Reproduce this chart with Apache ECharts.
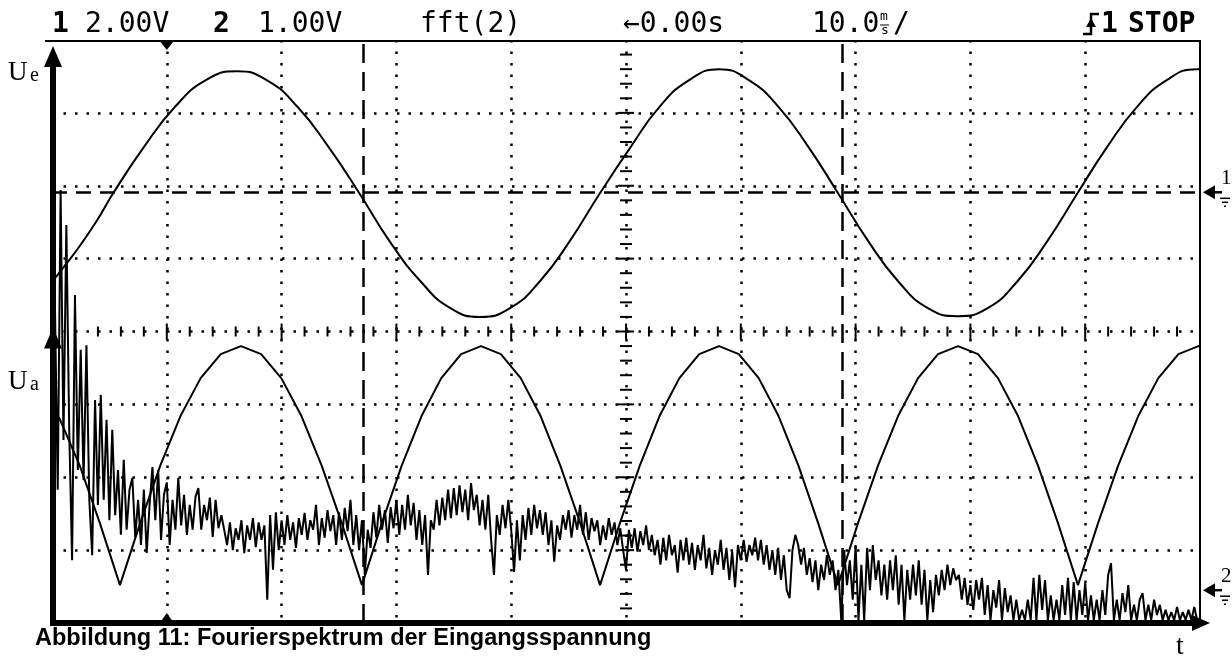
<!DOCTYPE html>
<html><head><meta charset="utf-8">
<script src="https://cdn.jsdelivr.net/npm/echarts@6/dist/echarts.min.js"></script>
<style>html,body{margin:0;padding:0;background:#fff}#c{width:1232px;height:659px}</style>
</head><body><div id="c"></div>
<script>
// ---- data (time in ms, trigger at 0; amplitude in divisions) ----
const timeUe = [-50,-48.9,-47.6,-46.1,-44.7,-42.0,-39.3,-36.6,-33.9,-31.3,-28.6,-25.9,-23.2,-20.6,-17.9,-15.3,-12.7,-10.1,-7.5,-4.9,-2.3,0.4,2.9,5.5,8.1,10.7,13.3,15.9,18.5,21.1,23.7,26.3,28.9,31.5,34.1,36.7,39.3,41.9,44.5,47.1,49.7,50];
const valueUe = [0.68,0.90,1.17,1.52,1.89,2.53,3.08,3.45,3.57,3.45,3.08,2.53,1.89,1.24,0.69,0.32,0.20,0.32,0.69,1.24,1.89,2.53,3.08,3.45,3.60,3.45,3.08,2.53,1.89,1.24,0.69,0.32,0.21,0.32,0.69,1.24,1.89,2.53,3.08,3.45,3.60,3.60];

const timeUa = [-50,-49.33,-47.58,-45.83,-44.08,
 -42.32,-40.57,-38.81,-37.05,-35.30,-33.54,-31.78,-30.03,-28.27,-26.51,-24.76,-23.00,
 -21.27,-19.54,-17.81,-16.09,-14.36,-12.63,-10.90,-9.17,-7.44,-5.72,-3.99,-2.26,
 -0.53,1.20,2.92,4.65,6.38,8.11,9.83,11.56,13.29,15.02,16.74,18.47,
 20.21,21.95,23.70,25.44,27.18,28.92,30.66,32.40,34.15,35.89,37.63,39.37,
 41.12,42.87,44.62,46.37,48.12,49.87,50];
const valueUa = [-1.05,-1.20,-1.84,-2.63,-3.48,
 -2.63,-1.84,-1.16,-0.64,-0.31,-0.20,-0.31,-0.64,-1.16,-1.84,-2.63,-3.48,
 -2.63,-1.84,-1.16,-0.64,-0.31,-0.20,-0.31,-0.64,-1.16,-1.84,-2.63,-3.48,
 -2.63,-1.84,-1.16,-0.64,-0.31,-0.20,-0.31,-0.64,-1.16,-1.84,-2.63,-3.48,
 -2.63,-1.84,-1.16,-0.64,-0.31,-0.20,-0.31,-0.64,-1.16,-1.84,-2.63,-3.48,
 -2.63,-1.84,-1.16,-0.64,-0.31,-0.20,-0.20];

const fftStartMs = -50, fftStepMs = 0.25;
const fftLevel = [
 2.37,4.43,1.83,5.94,2.51,5.46,2.65,0.86,4.50,2.10,3.75,1.96,3.81,1.69,0.93,3.06,1.62,3.13,1.69,2.79,
 1.41,2.65,1.48,2.10,1.21,2.24,1.28,1.83,1.99,1.18,1.69,1.07,1.83,0.96,1.62,2.14,1.41,2.10,1.14,1.76,
 1.93,1.07,1.69,1.28,1.99,1.34,1.76,1.21,1.62,1.28,1.73,1.85,1.28,1.62,1.41,1.72,1.18,1.69,1.30,1.48,
 1.28,1.07,1.38,1.00,1.30,1.14,1.41,0.96,1.34,1.14,1.44,1.04,1.38,1.14,1.34,0.32,1.48,0.73,1.52,1.00,
 1.41,1.07,1.48,1.14,1.38,1.03,1.44,1.21,1.51,1.14,1.41,1.28,1.62,1.07,1.44,1.17,1.55,1.26,1.48,1.07,
 1.52,1.14,1.58,1.26,1.69,1.07,1.48,1.00,1.41,0.66,1.28,1.03,1.52,1.17,1.62,1.28,1.55,1.10,1.59,1.30,
 1.69,1.21,1.62,1.28,1.76,1.34,1.65,1.14,1.55,1.07,1.48,0.66,1.41,1.28,1.69,1.34,1.72,1.41,1.83,1.44,
 1.85,1.48,1.89,1.52,1.83,1.41,1.92,1.55,1.76,1.34,1.69,1.28,1.76,1.14,0.66,1.48,1.21,1.62,1.30,1.69,
 1.28,0.70,1.41,0.86,1.48,1.14,1.58,1.21,1.62,1.30,1.55,1.21,1.52,1.07,1.41,0.84,1.34,1.14,1.48,1.28,
 1.55,1.17,1.48,1.28,1.62,1.21,1.52,1.14,1.44,1.26,1.41,1.07,1.34,1.14,1.44,1.21,1.38,1.07,1.30,1.00,
 0.73,1.28,1.03,1.30,0.98,1.26,1.07,1.34,1.00,1.21,0.93,1.14,0.80,1.17,0.86,1.21,0.93,1.07,0.69,1.14,
 0.86,1.17,0.80,1.10,0.73,1.07,0.86,1.21,0.75,1.03,0.66,1.00,0.80,1.14,0.73,1.03,0.59,0.98,0.49,1.07,
 0.86,1.14,0.84,1.07,0.93,1.17,0.86,1.14,0.80,1.07,0.73,1.00,0.66,1.03,0.59,0.93,0.45,0.34,1.00,1.21,
 1.07,0.80,1.03,0.66,0.89,0.56,0.86,0.45,0.80,0.59,0.93,0.66,0.86,0.45,0.73,0.04,1.00,0.52,0.86,0.32,
 1.07,0.04,0.80,0.04,1.03,0.45,1.07,0.59,0.86,0.38,0.80,0.32,0.86,0.45,0.93,0.25,0.80,0.04,0.73,0.32,
 0.80,0.38,0.86,0.25,0.73,0.04,0.59,0.15,0.66,0.38,0.73,0.45,0.80,0.52,0.75,0.59,0.66,0.32,0.62,0.25,
 0.52,0.18,0.59,0.32,0.62,0.11,0.52,0.04,0.45,0.21,0.59,0.04,0.48,0.15,0.38,0.04,0.32,0.04,0.18,0.04,
 0.32,0.04,0.62,0.04,0.66,0.18,0.59,0.04,0.38,0.04,0.32,0.04,0.52,0.11,0.62,0.04,0.56,0.04,0.45,0.11,
 0.55,0.04,0.38,0.04,0.32,0.04,0.45,0.11,0.66,0.82,0.04,0.32,0.04,0.41,0.15,0.52,0.04,0.25,0.04,0.32,
 0.41,0.04,0.25,0.04,0.32,0.11,0.25,0.04,0.18,0.04,0.15,0.04,0.22,0.04,0.15,0.04,0.18,0.04,0.22,0.04];

const cursorTimes = [-22.9, 18.8];
const cursorLevel = 1.91;
const groundLevels = [{label:'1', level:1.91}, {label:'2', level:-3.55}];
const headerTexts = [
  {t:'1', x:52, bold:true}, {t:'2.00V', x:85}, {t:'2', x:213, bold:true}, {t:'1.00V', x:258},
  {t:'fft(2)', x:420}, {t:'\u21900.00s', x:623}, {t:'10.0', x:812}, {t:'/', x:893},
  {t:'1', x:1101, bold:true}, {t:'STOP', x:1128, bold:true}
];
const captionText = 'Abbildung 11: Fourierspektrum der Eingangsspannung';

// ---- chart ----
const dotted = {show:true, showMinLine:false, showMaxLine:false,
  lineStyle:{color:'#000', width:2.5, type:[2.5,9], cap:'butt'}};
const chart = echarts.init(document.getElementById('c'), null, {renderer:'canvas'});
const option = {
  animation:false, backgroundColor:'#fff',
  grid:{left:52, right:32, top:40, bottom:36},
  xAxis:{type:'value', min:-50, max:50, interval:10, axisLine:{show:false}, axisTick:{show:false}, axisLabel:{show:false}, splitLine:dotted},
  yAxis:[
    {type:'value', min:-4, max:4, interval:1, axisLine:{show:false}, axisTick:{show:false}, axisLabel:{show:false}, splitLine:dotted},
    {type:'value', min:0, max:8, show:false, splitLine:{show:false}}
  ],
  series:[
    {name:'Ue', type:'line', smooth:true, symbol:'none', lineStyle:{color:'#000', width:2},
     data: timeUe.map((t,i)=>[t, valueUe[i]]), z:3},
    {name:'Ua', type:'line', smooth:false, symbol:'none', lineStyle:{color:'#000', width:2},
     data: timeUa.map((t,i)=>[t, valueUa[i]]), z:3},
    {name:'fft', type:'line', yAxisIndex:1, symbol:'none', lineStyle:{color:'#000', width:2},
     data: fftLevel.map((v,i)=>[fftStartMs + i*fftStepMs, v]), z:3},
    {name:'cursor', type:'line', data:[], markLine:{silent:true, symbol:['none','none'], label:{show:false},
      lineStyle:{color:'#000', width:2.5},
      data: cursorTimes.map(t=>({xAxis:t, lineStyle:{color:'#000', width:2.5, type:[19,9]}}))
        .concat([{yAxis:cursorLevel, lineStyle:{color:'#000', width:2.5, type:[15,9]}}])}}
  ]
};
chart.setOption(option);

const P = (x,y) => chart.convertToPixel({gridIndex:0}, [x,y]);
const g = [];
const Z = 100;
function line(x1,y1,x2,y2,w){ g.push({type:'line', z:Z, shape:{x1,y1,x2,y2}, style:{stroke:'#000', lineWidth:w}}); }
function poly(pts){ g.push({type:'polygon', z:Z, shape:{points:pts}, style:{fill:'#000'}}); }
function text(x,y,t,font,align){ g.push({type:'text', z:Z, x, y, style:{text:t, font, fill:'#000', align:align||'left', verticalAlign:'middle', textAlign:align||'left', textVerticalAlign:'middle'}}); }

const [L, T] = P(-50, 4);
const [R, B] = P(50, -4);
const [CX, CY] = P(0, 0);

// frame
line(45, T+1, R, T+1, 2);
line(R, T, R, B, 2);
line(L-2, B, R-6, B, 6);
poly([[R-8,B-8],[R+10,B],[R-8,B+8]]);
line(L+1, B+3, L+1, T+24, 6);
poly([[L-8,T+27],[L+1,T+6],[L+10,T+27]]);
const [, axis2Y] = P(-50, 0);
poly([[L-8,axis2Y+17],[L+1,axis2Y-4],[L+10,axis2Y+17]]);

// center tick marks
for (let t = -48; t <= 48; t += 2) {
  const [x] = P(t, 0);
  const h = (t % 10 === 0) ? 8 : 5;
  line(x, CY-h, x, CY+h, 2);
}
for (let k = -19; k <= 19; k++) {
  const v = k / 5;
  const [, y] = P(0, v);
  const h = (k % 5 === 0) ? 8 : 6;
  line(CX-h, y, CX+h, y, 2);
}

// trigger position markers
const [mx] = P(-40, 0);
poly([[mx-7,T+1],[mx+7,T+1],[mx,T+10]]);
poly([[mx-7,B],[mx+7,B],[mx,B-10]]);

// channel ground markers (right)
groundLevels.forEach(gl => {
  const [, y] = P(0, gl.level);
  poly([[R+3,y],[R+15,y-7],[R+15,y+7]]);
  line(R+14, y, R+22, y, 2.5);
  text(R+21, y-14, gl.label, '21px "Liberation Serif"');
  line(R+20, y+6, R+30, y+6, 1.5);
  line(R+22, y+10, R+28, y+10, 1.5);
  line(R+24, y+14, R+26, y+14, 1.5);
});

// header
headerTexts.forEach(h => text(h.x, 25, h.t, (h.bold?'bold ':'') + '28px "DejaVu Sans Mono"'));
text(880, 17, 'm', '13px "DejaVu Sans Mono"');
line(880, 25, 889, 25, 1);
text(881, 31, 's', '13px "DejaVu Sans Mono"');
// rising edge trigger symbol
g.push({type:'polyline', z:Z, shape:{points:[[1083,34],[1091,34],[1091,14],[1099,14]]}, style:{stroke:'#000', lineWidth:2.5, fill:null}});
poly([[1086,27],[1091,18],[1096,27]]);

// axis names
text(8, 73, 'U', '27px "Liberation Serif"');
text(30, 75.5, 'e', '20px "Liberation Serif"');
text(8, 382, 'U', '27px "Liberation Serif"');
text(30, 384.5, 'a', '20px "Liberation Serif"');
text(1180, 647, 't', '28px "Liberation Serif"', 'center');

// caption
text(35, 639, captionText, 'bold 23.5px "Liberation Sans"');

chart.setOption({graphic: g});
</script></body></html>
